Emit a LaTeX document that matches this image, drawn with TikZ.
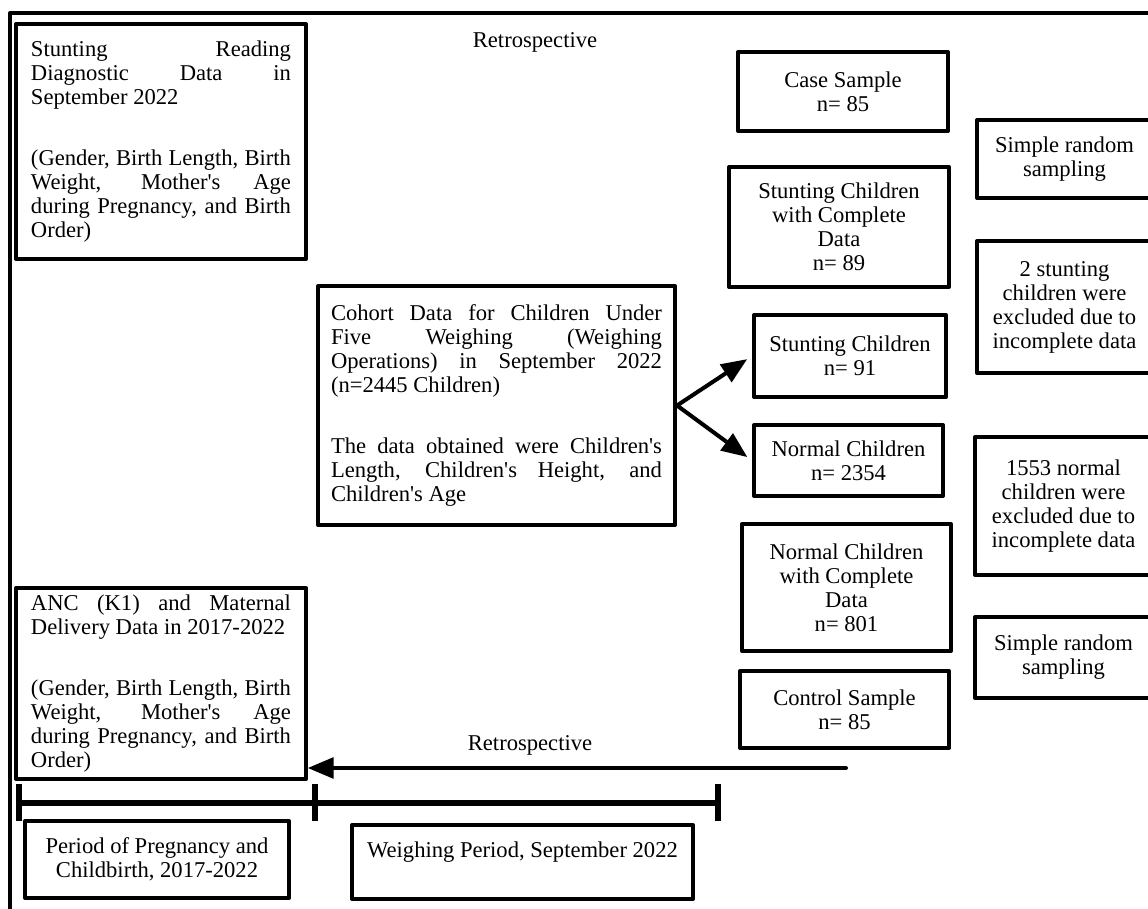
\documentclass[tikz,border=0pt]{standalone}
\usepackage{fontspec}
\setmainfont{Liberation Serif}[Ligatures=TeXOff]
\usetikzlibrary{arrows}
\setlength{\parindent}{0pt}

\tikzset{
  every node/.style={font=\fontsize{11.3}{12}\selectfont},
  databox/.style={draw, line width=2pt, align=justify, inner sep=0pt},
  flowbox/.style={draw, line width=2pt, align=center, inner sep=0pt},
}

\begin{document}
\begin{tikzpicture}[line cap=round,line join=round,>=triangle 45,x=0.5pt,y=-0.5pt]
\useasboundingbox (0,0) rectangle (1148,909);
% frame
\draw [line width=2pt] (10,930) -- (10,13) -- (1170,13);
% data sources
\node [databox, text width=130pt, minimum width=145pt, minimum height=117.5pt] (stuntdiag) at (161,141.5) {Stunting Reading\linebreak Diagnostic Data in\linebreak September 2022\par\vspace{18.5pt}(Gender, Birth Length, Birth\linebreak Weight, Mother's Age\linebreak during Pregnancy, and Birth\linebreak Order)};
\node [databox, text width=130pt, minimum width=145pt, minimum height=95.5pt] (anc) at (161,683.5) {ANC (K1) and Maternal\linebreak Delivery Data in 2017-2022\par\vspace{18.5pt}(Gender, Birth Length, Birth\linebreak Weight, Mother's Age\linebreak during Pregnancy, and Birth\linebreak Order)};
\node [databox, text width=165.5pt, minimum width=178.5pt, minimum height=119.5pt] (cohort) at (496.5,405.5) {Cohort Data for Children Under\linebreak Five Weighing (Weighing\linebreak Operations) in September 2022\linebreak (n=2445 Children)\par\vspace{18.5pt}The data obtained were Children's\linebreak Length, Children's Height, and\linebreak Children's Age};
\node (retrotop) at (535,42) {Retrospective};
% samples
\node [flowbox, minimum width=105pt, minimum height=39.5pt] (case) at (843,91.5) {Case Sample\\n= 85};
\node [flowbox, minimum width=110pt, minimum height=60pt] (stuntfull) at (839,227) {Stunting Children\\with Complete\\Data\\n= 89};
\node [flowbox, minimum width=96pt, minimum height=41pt] (stunt) at (850,356) {Stunting Children\\n= 91};
\node [flowbox, minimum width=94.5pt, minimum height=35.5pt] (normal) at (848.5,460.5) {Normal Children\\n= 2354};
\node [flowbox, minimum width=104.5pt, minimum height=63.5pt] (normalfull) at (846.5,587.5) {Normal Children\\with Complete\\Data\\n= 801};
\node [flowbox, minimum width=104.5pt, minimum height=38.5pt] (control) at (844.5,709.5) {Control Sample\\n= 85};
% notes on the right
\node [flowbox, minimum width=87.5pt, minimum height=39pt] (srsup) at (1064.5,159) {Simple random\\sampling};
\node [flowbox, minimum width=87.5pt, minimum height=66pt] (exclstunt) at (1064.5,307) {2 stunting\\children were\\excluded due to\\incomplete data};
\node [flowbox, minimum width=88.5pt, minimum height=69pt] (exclnormal) at (1063.5,506) {1553 normal\\children were\\excluded due to\\incomplete data};
\node [flowbox, minimum width=88.5pt, minimum height=40.5pt] (srsdown) at (1063.5,657.5) {Simple random\\sampling};
% split
\draw [->, line width=2pt, shorten >=3pt] (cohort.east) -- (stunt.west);
\draw [->, line width=2pt, shorten >=3pt] (cohort.east) -- (normal.west);
% back to the births
\coordinate (retrostart) at (846,768);
\draw [->, line width=2pt] (retrostart) -- (retrostart -| anc.east);
\node (retrobot) at (530,745) {Retrospective};
% time line
\draw [line width=3pt, line cap=butt] (19,803) -- (718,803);
\foreach \x in {19,315,718}
  \draw [line width=3pt, line cap=butt] (\x,784) -- (\x,821);
\node [flowbox, minimum width=132pt, minimum height=38.5pt] (period) at (157,859.5) {Period of Pregnancy and\\Childbirth, 2017-2022};
\node [flowbox, minimum width=170.5pt, minimum height=37pt] (weighing) at (522.5,862) {Weighing Period, September 2022\\\mbox{}};
\end{tikzpicture}
\end{document}
